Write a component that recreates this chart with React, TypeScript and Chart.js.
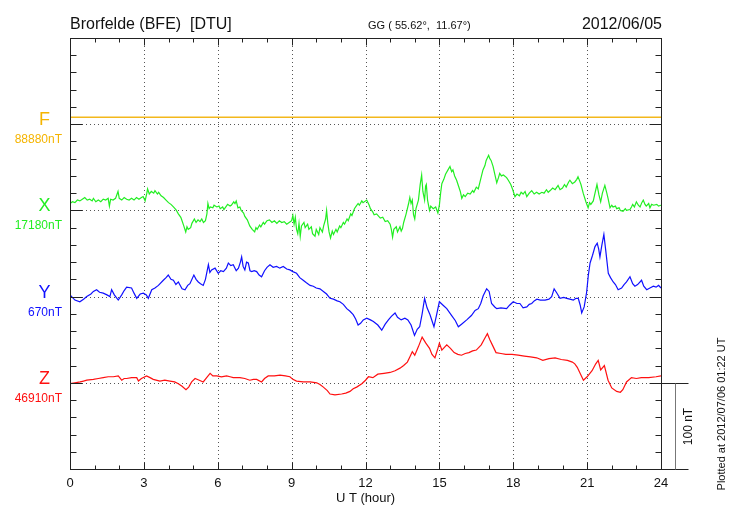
import { useEffect, useRef } from "react";
import { Chart, registerables } from "chart.js";

Chart.register(...registerables);

// ---- labels / categories ----
const titleLeft = "Brorfelde (BFE)  [DTU]";
const titleMid = "GG ( 55.62°,  11.67°)";
const titleRight = "2012/06/05";
const xAxisTitle = "U T (hour)";
const plottedAt = "Plotted at 2012/07/06 01:22 UT";
const scaleBarLabel = "100 nT";
const hourTickLabels = [0, 3, 6, 9, 12, 15, 18, 21, 24];
const components = ["F", "X", "Y", "Z"];
const baseValues = ["88880nT", "17180nT", "670nT", "46910nT"];
const componentColors = ["#f5b400", "#22ee22", "#1010ff", "#ff1010"];
const lineColors = ["#f3b81c", "#22ee22", "#1010ff", "#ff1010"];
// baseline level of each component on the stacked nT axis
const baseLevels = [400, 300, 200, 100];

// ---- series (hours UT, deviation from baseline in nT) ----
const fHours = [0, 24];
const fValues = [8, 8];

const xHours = [
  0, 0.1, 0.2, 0.3, 0.4, 0.5, 0.6, 0.7, 0.8, 0.9,
  0.95, 1.05, 1.15, 1.25, 1.35, 1.45, 1.55, 1.6, 1.65, 1.75,
  1.85, 1.95, 2.0, 2.1, 2.2, 2.3, 2.4, 2.5, 2.6, 2.7,
  2.8, 2.9, 2.97, 3.05, 3.12, 3.15, 3.22, 3.3, 3.4, 3.45,
  3.55, 3.6, 3.7, 3.8, 3.9, 4.0, 4.1, 4.2, 4.3, 4.4,
  4.5, 4.55, 4.62, 4.7, 4.75, 4.8, 4.9, 4.95, 5.05, 5.12,
  5.2, 5.28, 5.35, 5.42, 5.5, 5.56, 5.6, 5.65, 5.7, 5.8,
  5.85, 5.96, 6.05, 6.1, 6.2, 6.25, 6.35, 6.4, 6.5, 6.55,
  6.65, 6.7, 6.75, 6.82, 6.9, 6.95, 7.05, 7.1, 7.2, 7.3,
  7.4, 7.5, 7.55, 7.6, 7.7, 7.75, 7.85, 7.9, 8.0, 8.1,
  8.2, 8.3, 8.4, 8.5, 8.6, 8.7, 8.8, 8.9, 9.0, 9.05,
  9.1, 9.15, 9.2, 9.25, 9.3, 9.35, 9.4, 9.5, 9.55, 9.65,
  9.7, 9.8, 9.85, 9.95, 10.0, 10.1, 10.15, 10.25, 10.3, 10.38,
  10.42, 10.47, 10.52, 10.58, 10.65, 10.7, 10.8, 10.85, 10.95, 11.0,
  11.1, 11.15, 11.25, 11.3, 11.4, 11.45, 11.55, 11.6, 11.7, 11.75,
  11.85, 11.9, 12.05, 12.15, 12.2, 12.3, 12.35, 12.45, 12.6, 12.7,
  12.8, 12.9, 13.0, 13.05, 13.1, 13.15, 13.25, 13.3, 13.4, 13.45,
  13.5, 13.55, 13.65, 13.75, 13.8, 13.85, 13.9, 13.95, 14.0, 14.05,
  14.15, 14.22, 14.28, 14.33, 14.4, 14.44, 14.47, 14.52, 14.6, 14.65,
  14.75, 14.85, 14.94, 15.0, 15.05, 15.1, 15.18, 15.25, 15.35, 15.43,
  15.5, 15.55, 15.62, 15.7, 15.78, 15.85, 15.91, 15.98, 16.05, 16.15,
  16.25, 16.35, 16.4, 16.5, 16.58, 16.65, 16.77, 16.85, 16.9, 17.0,
  17.05, 17.1, 17.18, 17.25, 17.33, 17.4, 17.45, 17.52, 17.6, 17.73,
  17.8, 17.9, 17.98, 18.07, 18.15, 18.25, 18.32, 18.4, 18.48, 18.55,
  18.65, 18.75, 18.85, 18.95, 19.05, 19.16, 19.25, 19.35, 19.42, 19.5,
  19.6, 19.7, 19.82, 19.9, 20.0, 20.08, 20.15, 20.25, 20.3, 20.4,
  20.5, 20.58, 20.63, 20.7, 20.75, 20.84, 20.95, 21.04, 21.1, 21.15,
  21.25, 21.32, 21.4, 21.48, 21.55, 21.62, 21.72, 21.8, 21.85, 21.93,
  22.0, 22.05, 22.15, 22.2, 22.3, 22.35, 22.46, 22.55, 22.6, 22.74,
  22.8, 22.85, 22.92, 23.0, 23.08, 23.15, 23.22, 23.28, 23.35, 23.4,
  23.5, 23.55, 23.62, 23.7, 23.83, 23.9, 24.0,
];
const xValues = [
  8, 10, 9, 12, 11, 13, 15, 12, 13, 11,
  14, 10, 12, 10, 13, 12, 14, 5, 13, 12,
  14, 22, 14, 12, 15, 13, 12, 14, 12, 15,
  13, 15, 16, 11, 20, 25, 19, 22, 20, 23,
  19, 21, 17, 15, 12, 9, 7, 4, 1, -4,
  -8, -12, -18, -25, -19, -22, -20, -15, -10, -14,
  -11, -13, -10, -14, -12, -4, 8, 2, 4, 3,
  6, 4, 5, 2, 4, 1, 5, 7, 5, 6,
  10, 8, 11, 3, 4, 0, -3, -7, -11, -18,
  -22, -25, -20, -22, -17, -19, -14, -16, -12, -11,
  -14, -12, -15, -12, -14, -13, -16, -14, -12, -6,
  -16, -8, -22, -27, -15, -30, -18, -14, -20, -16,
  -22, -19, -27, -30, -22, -28, -20, -25, -18, -10,
  0, -15, -25, -32, -24, -28, -22, -25, -18, -20,
  -14, -16, -10, -12, -4, -6, 2, 4, 8, 6,
  11, 9, 12, 6, 2, -2, -5, -4, -9, -8,
  -13, -12, -16, -22, -31, -22, -19, -25, -19, -24,
  -21, -14, -4, 8, 15, 8, 12, -5, -10, 2,
  12, 30, 41, 22, 12, 28, 30, 12, 0, 5,
  2, 4, -3, 6, 20, 31, 36, 42, 47, 51,
  45, 47, 40, 35, 28, 22, 14, 18, 16, 20,
  19, 23, 21, 27, 25, 33, 47, 52, 58, 64,
  60, 58, 51, 42, 32, 38, 43, 40, 41, 38,
  35, 30, 24, 16, 19, 17, 21, 19, 22, 16,
  20, 23, 19, 21, 19, 21, 20, 24, 21, 23,
  26, 24, 29, 24, 26, 30, 27, 33, 35, 31,
  33, 36, 39, 34, 30, 20, 10, 3, 9, 7,
  11, 20, 30, 18, 10, 20, 29, 20, 14, 3,
  6, 4, 5, 2, 3, 0, -1, 2, 0, 1,
  4, 7, 4, 10, 6, 4, 9, 12, 7, 5,
  8, 3, 7, 6, 7, 5, 6,
];

const yHours = [
  0, 0.2, 0.4, 0.55, 0.68, 0.85, 0.95, 1.08, 1.2, 1.35, 1.5, 1.62, 1.69, 1.8, 1.96, 2.1, 2.2, 2.3, 2.5, 2.6,
  2.71, 2.85, 2.98, 3.1, 3.18, 3.32, 3.45, 3.59, 3.79, 3.9, 3.99, 4.1, 4.2, 4.3, 4.4, 4.55, 4.67, 4.78, 4.87, 5.03,
  5.12, 5.21, 5.3, 5.41, 5.5, 5.62, 5.68, 5.75, 5.89, 6.02, 6.12, 6.23, 6.35, 6.43, 6.53, 6.63, 6.75, 6.84, 6.92, 6.97,
  7.03, 7.1, 7.17, 7.24, 7.31, 7.38, 7.48, 7.58, 7.68, 7.78, 7.9, 8.0, 8.12, 8.25, 8.39, 8.52, 8.66, 8.8, 8.93, 9.05,
  9.2, 9.33, 9.47, 9.6, 9.75, 9.88, 10.0, 10.15, 10.29, 10.42, 10.56, 10.7, 10.85, 10.96, 11.1, 11.24, 11.37, 11.5, 11.6, 11.7,
  11.8, 11.91, 12.05, 12.2, 12.32, 12.5, 12.66, 12.8, 12.93, 13.05, 13.2, 13.3, 13.45, 13.6, 13.72, 13.85, 13.99, 14.1, 14.2, 14.3,
  14.4, 14.5, 14.62, 14.7, 14.78, 14.88, 15.0, 15.15, 15.3, 15.5, 15.65, 15.77, 15.9, 16.11, 16.3, 16.45, 16.58, 16.68, 16.78, 16.92,
  17.02, 17.12, 17.25, 17.33, 17.5, 17.73, 17.85, 18.0, 18.15, 18.27, 18.4, 18.55, 18.65, 18.75, 18.85, 18.96, 19.1, 19.29, 19.45, 19.56,
  19.66, 19.75, 19.9, 20.05, 20.17, 20.3, 20.44, 20.55, 20.64, 20.72, 20.78, 20.88, 20.98, 21.05, 21.12, 21.22, 21.32, 21.41, 21.47, 21.52,
  21.6, 21.68, 21.75, 21.86, 21.95, 22.06, 22.15, 22.26, 22.4, 22.5, 22.6, 22.74, 22.85, 22.94, 23.05, 23.21, 23.3, 23.42, 23.55, 23.69,
  23.8, 23.9, 24,
];
const yValues = [
  2, -4, -6, -3, 0, 3, 6, 8, 5, 4, 2, 0, 8, 2, -4, 2, 7, 11, 10, 4,
  -2, 3, 4, 2, -2, 8, 10, 13, 19, 22, 25, 20, 19, 14, 17, 9, 8, 13, 15, 25,
  20, 17, 15, 13, 20, 37, 28, 31, 33, 27, 30, 29, 33, 39, 36, 37, 30, 33, 40, 46,
  35, 31, 40, 39, 30, 29, 30, 29, 25, 23, 30, 34, 37, 34, 35, 33, 35, 32, 31, 29,
  27, 22, 19, 16, 13, 12, 10, 9, 6, 3, -2, -3, -5, -6, -9, -14, -17, -21, -26, -33,
  -31, -27, -25, -27, -29, -33, -39, -32, -27, -23, -19, -24, -27, -25, -27, -33, -45, -38, -35, -20,
  -2, -13, -21, -28, -35, -22, -6, -10, -14, -22, -28, -35, -32, -27, -22, -16, -14, -8, 1, 9,
  6, -8, -12, -14, -13, -14, -10, -6, -8, -8, -13, -12, -9, -8, -5, -3, -4, -4, -3, 0,
  9, 5, -2, -1, -2, -3, -4, -2, -2, -10, -19, -12, 5, 25, 39, 48, 58, 62, 55, 46,
  60, 72, 55, 27, 22, 17, 14, 8, 10, 14, 17, 23, 15, 12, 14, 19, 12, 8, 10, 12,
  11, 13, 10,
];

const zHours = [
  0, 0.2, 0.41, 0.55, 0.68, 0.95, 1.15, 1.35, 1.55, 1.76, 1.96, 2.1, 2.2, 2.3, 2.5, 2.71, 2.78, 2.9, 3.11, 3.25,
  3.38, 3.65, 3.85, 4.06, 4.25, 4.4, 4.55, 4.71, 4.82, 4.94, 5.08, 5.25, 5.41, 5.55, 5.69, 5.8, 5.96, 6.15, 6.36, 6.5,
  6.63, 6.9, 7.1, 7.3, 7.45, 7.58, 7.78, 7.9, 8.05, 8.3, 8.53, 8.75, 8.93, 9.05, 9.2, 9.47, 9.75, 10.02, 10.15, 10.29,
  10.45, 10.56, 10.76, 11.03, 11.2, 11.37, 11.5, 11.64, 11.85, 12.0, 12.12, 12.3, 12.5, 12.75, 13.0, 13.2, 13.4, 13.55, 13.7, 13.8,
  13.9, 14.0, 14.15, 14.3, 14.45, 14.6, 14.7, 14.82, 14.92, 15.0, 15.1, 15.3, 15.45, 15.6, 15.75, 15.9, 16.05, 16.2, 16.35, 16.5,
  16.7, 16.85, 16.95, 17.05, 17.15, 17.3, 17.5, 17.7, 17.95, 18.2, 18.45, 18.7, 18.95, 19.2, 19.45, 19.7, 19.95, 20.2, 20.4, 20.5,
  20.6, 20.7, 20.85, 21.0, 21.2, 21.35, 21.45, 21.55, 21.7, 21.85, 22.0, 22.2, 22.35, 22.45, 22.6, 22.8, 23.0, 23.2, 23.5, 23.8,
  24,
];
const zValues = [
  -1, 0, 1, 2, 3, 4, 5, 6, 7, 7, 8, 3, 5, 5, 6, 6, 2, 5, 8, 6,
  4, 2, 3, 2, 1, -1, -4, -8, -5, 1, 5, 3, 1, 6, 11, 8, 8, 7, 8, 7,
  6, 6, 5, 3, 4, 4, 1, 5, 8, 8, 9, 8, 7, 4, 2, 1, 1, 0, -2, -5,
  -9, -13, -14, -13, -12, -10, -7, -5, -1, 3, 7, 6, 10, 11, 12, 14, 17, 20, 24, 30,
  36, 32, 42, 53, 46, 40, 33, 29, 38, 46, 38, 44, 40, 35, 33, 32, 34, 35, 37, 38,
  44, 52, 57, 50, 44, 35, 34, 33, 33, 32, 31, 30, 29, 26, 28, 29, 27, 26, 24, 22,
  18, 12, 3, 7, 14, 22, 26, 15, 20, 3, -6, -10, -11, -8, 1, 6, 5, 6, 6, 7,
  8,
];

const seriesHours = [fHours, xHours, yHours, zHours];
const seriesValues = [fValues, xValues, yValues, zValues];

const FONT = "'Liberation Sans', Arial, Helvetica, sans-serif";

const decorPlugin = {
  id: "decor",
  beforeDatasetsDraw(chart: any) {
    const { ctx, chartArea, scales } = chart;
    const { left, right, top, bottom } = chartArea;
    const xs = scales.x;
    const ys = scales.y;
    ctx.save();
    ctx.strokeStyle = "#555";
    ctx.lineWidth = 1;
    ctx.setLineDash([1, 3]);
    for (let h = 3; h < 24; h += 3) {
      const px = Math.round(xs.getPixelForValue(h)) + 0.5;
      ctx.beginPath();
      ctx.moveTo(px, top);
      ctx.lineTo(px, bottom);
      ctx.stroke();
    }
    baseLevels.forEach((lv) => {
      const py = Math.round(ys.getPixelForValue(lv)) + 0.5;
      ctx.beginPath();
      ctx.moveTo(left, py);
      ctx.lineTo(right, py);
      ctx.stroke();
    });
    ctx.restore();
  },
  afterDraw(chart: any) {
    const { ctx, chartArea, scales } = chart;
    const { left, right, top, bottom } = chartArea;
    const xs = scales.x;
    const ys = scales.y;
    const L = Math.round(left) + 0.5;
    const R = Math.round(right) + 0.5;
    const T = Math.round(top) + 0.5;
    const B = Math.round(bottom) + 0.5;
    ctx.save();
    ctx.setLineDash([]);
    ctx.strokeStyle = "#222";
    ctx.lineWidth = 1;
    // frame
    ctx.strokeRect(L, T, R - L, B - T);
    // vertical ticks (every 20 nT)
    for (let v = 0; v <= 500; v += 20) {
      const py = Math.round(ys.getPixelForValue(v)) + 0.5;
      const len = v % 100 === 0 ? 12 : 6;
      ctx.beginPath();
      ctx.moveTo(L, py);
      ctx.lineTo(L + len, py);
      ctx.moveTo(R, py);
      ctx.lineTo(R - len, py);
      ctx.stroke();
    }
    // hour ticks
    for (let h = 0; h <= 24; h += 1) {
      const px = Math.round(xs.getPixelForValue(h)) + 0.5;
      const len = h % 3 === 0 ? 7 : 4;
      ctx.beginPath();
      ctx.moveTo(px, B);
      ctx.lineTo(px, B - len);
      ctx.moveTo(px, T);
      ctx.lineTo(px, T + len);
      ctx.stroke();
    }
    // scale bar (100 nT)
    const y100 = Math.round(ys.getPixelForValue(100)) + 0.5;
    const y0 = Math.round(ys.getPixelForValue(0)) + 0.5;
    ctx.beginPath();
    ctx.moveTo(R, y100);
    ctx.lineTo(R + 27, y100);
    ctx.moveTo(R, y0);
    ctx.lineTo(R + 27, y0);
    ctx.stroke();
    ctx.strokeStyle = "#777";
    ctx.beginPath();
    ctx.moveTo(R + 14, y100);
    ctx.lineTo(R + 14, y0);
    ctx.stroke();

    // texts
    ctx.fillStyle = "#111";
    ctx.textBaseline = "alphabetic";
    ctx.font = `16px ${FONT}`;
    ctx.textAlign = "left";
    ctx.fillText(titleLeft, left, 29);
    ctx.textAlign = "right";
    ctx.fillText(titleRight, right + 1, 29);
    ctx.font = `11px ${FONT}`;
    ctx.textAlign = "left";
    ctx.fillText(titleMid, 368, 29);

    // hour labels
    ctx.font = `13px ${FONT}`;
    ctx.textAlign = "center";
    hourTickLabels.forEach((h) => {
      ctx.fillText(String(h), xs.getPixelForValue(h), 487);
    });
    ctx.fillText(xAxisTitle, (left + right) / 2, 502);

    // component labels
    components.forEach((c, i) => {
      const py = ys.getPixelForValue(baseLevels[i]);
      ctx.fillStyle = componentColors[i];
      ctx.font = `18px ${FONT}`;
      ctx.textAlign = "center";
      ctx.fillText(c, 44.5, py + 1);
      ctx.font = `12px ${FONT}`;
      ctx.textAlign = "right";
      ctx.fillText(baseValues[i], 62, py + 19);
    });

    // rotated texts
    ctx.fillStyle = "#111";
    ctx.save();
    ctx.translate(R + 27, (y100 + y0) / 2);
    ctx.rotate(-Math.PI / 2);
    ctx.font = `12px ${FONT}`;
    ctx.textAlign = "center";
    ctx.textBaseline = "middle";
    ctx.fillText(scaleBarLabel, 0, 0);
    ctx.restore();

    ctx.save();
    ctx.translate(722, 414);
    ctx.rotate(-Math.PI / 2);
    ctx.font = `11px ${FONT}`;
    ctx.textAlign = "center";
    ctx.textBaseline = "middle";
    ctx.fillText(plottedAt, 0, 0);
    ctx.restore();

    ctx.restore();
  },
};

export default function App() {
  const canvasRef = useRef<HTMLCanvasElement | null>(null);

  useEffect(() => {
    if (!canvasRef.current) return;
    const datasets = components.map((c, i) => ({
      label: c,
      data: seriesHours[i].map((h, k) => ({ x: h, y: baseLevels[i] + seriesValues[i][k] })),
      borderColor: lineColors[i],
      borderWidth: i === 0 ? 1.5 : 1.2,
      pointRadius: 0,
      fill: false,
      tension: 0,
    }));
    const chart = new Chart(canvasRef.current, {
      type: "line",
      data: { datasets },
      options: {
        animation: false,
        responsive: false,
        events: [],
        layout: { padding: { left: 70, right: 69, top: 38, bottom: 51 } },
        scales: {
          x: { type: "linear", min: 0, max: 24, display: false },
          y: { type: "linear", min: 0, max: 500, display: false },
        },
        plugins: {
          legend: { display: false },
          tooltip: { enabled: false },
          title: { display: false },
        },
      },
      plugins: [decorPlugin],
    });
    return () => chart.destroy();
  }, []);

  return (
    <div style={{ position: "fixed", left: 0, top: 0, width: 730, height: 520, background: "#fff" }}>
      <canvas ref={canvasRef} width={730} height={520} />
    </div>
  );
}
